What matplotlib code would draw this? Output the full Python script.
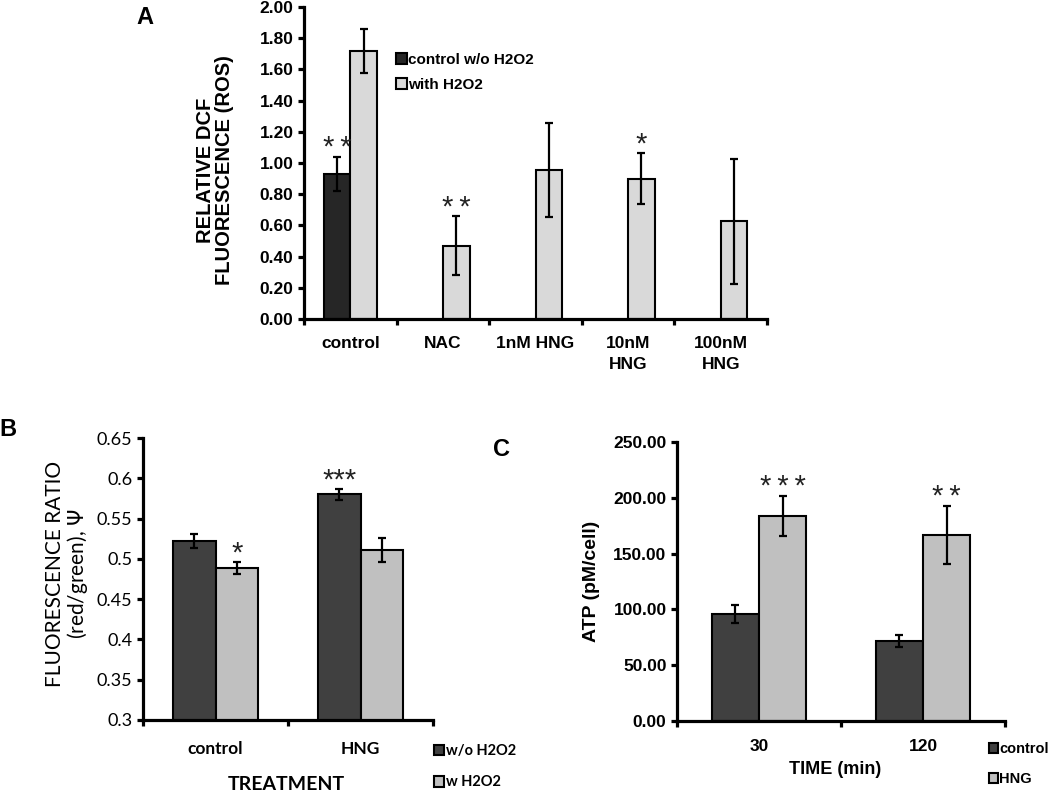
import numpy as np
import matplotlib
matplotlib.use('Agg')
from matplotlib import pyplot as plt

# DATI
# pannello A - ROS
a_cats = ['control', 'NAC', '1nM HNG', '10nM\nHNG', '100nM\nHNG']
a_dark = [0.93, 0, 0, 0, 0]
a_dark_err = [0.11, 0, 0, 0, 0]
a_light = [1.72, 0.47, 0.955, 0.90, 0.625]
a_light_err = [0.14, 0.19, 0.30, 0.165, 0.40]
a_stars_dark = ['**', '', '', '', '']
a_stars_light = ['', '**', '', '*', '']
a_legend = ['control w/o H2O2', 'with H2O2']

# pannello B - rapporto fluorescenza
b_cats = ['control', 'HNG']
b_dark = [0.522, 0.580]
b_dark_err = [0.009, 0.0065]
b_light = [0.489, 0.511]
b_light_err = [0.0075, 0.015]
b_stars_dark = ['', '***']
b_stars_light = ['*', '']
b_legend = ['w/o H2O2', 'w H2O2']

# pannello C - ATP
c_cats = ['30', '120']
c_dark = [96.0, 71.5]
c_dark_err = [8.0, 5.3]
c_light = [184.0, 167.0]
c_light_err = [18.0, 26.0]
c_stars_dark = ['', '']
c_stars_light = ['***', '**']
c_legend = ['control', 'HNG']

W, H = 1050, 797
fig = plt.figure(figsize=(W/100, H/100), dpi=100)

def px(x, y):
    return x/W, 1 - y/H

def rect(l, t, r, b):
    return [l/W, 1 - b/H, (r-l)/W, (b-t)/H]

def pannello(ax, cats, dark, dark_err, light, light_err, sd, sl, cdark, clight, w, sep='\u2009'):
    x = np.arange(len(cats))
    mask = np.array(dark) > 0
    bd = ax.bar(x[mask] - w/2, np.array(dark)[mask], w, color=cdark, edgecolor='black', linewidth=1.5, zorder=2)
    ax.errorbar(x[mask] - w/2, np.array(dark)[mask], yerr=np.array(dark_err)[mask], fmt='none',
                ecolor='black', elinewidth=1.6, capsize=3, capthick=1.6, zorder=3)
    bl = ax.bar(x + w/2, light, w, color=clight, edgecolor='black', linewidth=1.5, zorder=2)
    ax.errorbar(x + w/2, light, yerr=light_err, fmt='none',
                ecolor='black', elinewidth=1.6, capsize=3, capthick=1.6, zorder=3)
    for i in range(len(cats)):
        if sd[i]:
            ax.annotate(sep.join(sd[i]), (x[i] - w/2, dark[i] + dark_err[i]), xytext=(0, -4), textcoords='offset points',
                        ha='center', va='bottom', fontsize=21, color='#222222', family='Liberation Sans')
        if sl[i]:
            ax.annotate(sep.join(sl[i]), (x[i] + w/2, light[i] + light_err[i]), xytext=(0, -4), textcoords='offset points',
                        ha='center', va='bottom', fontsize=21, color='#222222', family='Liberation Sans')
    ax.set_xlim(-0.5, len(cats) - 0.5)
    ax.set_xticks(np.arange(len(cats) + 1) - 0.5)
    ax.set_xticklabels([])
    ax.set_xticks(x, minor=True)
    for s in ['top', 'right']:
        ax.spines[s].set_visible(False)
    for s in ['left', 'bottom']:
        ax.spines[s].set_linewidth(2.3)
    ax.tick_params(axis='both', which='major', direction='out', length=4, width=2.3)
    ax.tick_params(axis='x', which='minor', length=0)
    return bd, bl

# A
axA = fig.add_axes(rect(304, 7, 767, 319))
bd, bl = pannello(axA, a_cats, a_dark, a_dark_err, a_light, a_light_err, a_stars_dark, a_stars_light,
                  '#262626', '#d9d9d9', 0.288)
axA.set_ylim(0, 2.0)
axA.set_yticks(np.arange(0, 2.01, 0.2))
axA.set_yticklabels(['%.2f' % v for v in np.arange(0, 2.01, 0.2)], fontsize=12.5, fontweight='bold', family='Liberation Sans')
axA.set_xticklabels(a_cats, minor=True, fontsize=12.5, fontweight='bold', family='Liberation Sans', linespacing=1.5)
axA.tick_params(axis='x', which='minor', pad=12)
axA.legend([bd, bl], a_legend, loc='upper left', bbox_to_anchor=px(396, 53), bbox_transform=fig.transFigure,
           frameon=False, borderpad=0, borderaxespad=0, handlelength=0.7, handleheight=0.7, handletextpad=0.1,
           labelspacing=0.7, prop={'family': 'Liberation Sans', 'weight': 'bold', 'size': 11})
fig.text(*px(215, 170), 'RELATIVE DCF\nFLUORESCENCE (ROS)', rotation=90, ha='center', va='center',
         fontsize=14.5, fontweight='bold', family='Liberation Sans', linespacing=0.95)
fig.text(*px(145, 17), 'A', ha='center', va='center', fontsize=17, fontweight='bold', family='Liberation Sans')

# B
axB = fig.add_axes(rect(143, 438, 433, 720))
bd, bl = pannello(axB, b_cats, b_dark, b_dark_err, b_light, b_light_err, b_stars_dark, b_stars_light,
                  '#404040', '#c0c0c0', 0.294, sep='')
axB.set_ylim(0.3, 0.65)
yt = [0.3, 0.35, 0.4, 0.45, 0.5, 0.55, 0.6, 0.65]
axB.set_yticks(yt)
axB.set_yticklabels(['0.3', '0.35', '0.4', '0.45', '0.5', '0.55', '0.6', '0.65'], fontsize=13, family='Lato')
axB.set_xticklabels(b_cats, minor=True, fontsize=12.5, family='Lato', fontweight='bold')
axB.tick_params(axis='x', which='minor', pad=15)
axB.legend([bd, bl], b_legend, loc='upper left', bbox_to_anchor=px(434, 744), bbox_transform=fig.transFigure,
           frameon=False, borderpad=0, borderaxespad=0, handlelength=0.7, handleheight=0.7, handletextpad=0.15,
           labelspacing=1.2, prop={'family': 'Lato', 'weight': 'bold', 'size': 10.5})
fig.text(*px(68, 574), 'FLUORESCENCE RATIO\n(red/green), $\\Psi$', rotation=90, ha='center', va='center',
         fontsize=15, family='Lato', linespacing=1.0)
fig.text(*px(286, 785), 'TREATMENT', ha='center', va='center', fontsize=14, fontweight='bold', family='Lato')
fig.text(*px(8, 430), 'B', ha='center', va='center', fontsize=17, fontweight='bold', family='Liberation Sans')

# C
axC = fig.add_axes(rect(677, 442, 1005, 721))
bd, bl = pannello(axC, c_cats, c_dark, c_dark_err, c_light, c_light_err, c_stars_dark, c_stars_light,
                  '#404040', '#c0c0c0', 0.287)
axC.set_ylim(0, 250)
axC.set_yticks(np.arange(0, 251, 50))
axC.set_yticklabels(['%.2f' % v for v in np.arange(0, 251, 50)], fontsize=12.5, fontweight='bold', family='Liberation Sans')
axC.set_xticklabels(c_cats, minor=True, fontsize=12.5, fontweight='bold', family='Liberation Sans')
axC.tick_params(axis='x', which='minor', pad=13)
axC.legend([bd, bl], c_legend, loc='upper left', bbox_to_anchor=px(989, 742), bbox_transform=fig.transFigure,
           frameon=False, borderpad=0, borderaxespad=0, handlelength=0.6, handleheight=0.7, handletextpad=0.1,
           labelspacing=1.1, prop={'family': 'Liberation Sans', 'weight': 'bold', 'size': 10.5})
fig.text(*px(592, 581), 'ATP (pM/cell)', rotation=90, ha='center', va='center',
         fontsize=14, fontweight='bold', family='Liberation Sans')
fig.text(*px(835, 769), 'TIME (min)', ha='center', va='center', fontsize=13, fontweight='bold', family='Liberation Sans')
fig.text(*px(501, 449), 'C', ha='center', va='center', fontsize=17, fontweight='bold', family='Liberation Sans')

plt.savefig('out.png', dpi=100)
